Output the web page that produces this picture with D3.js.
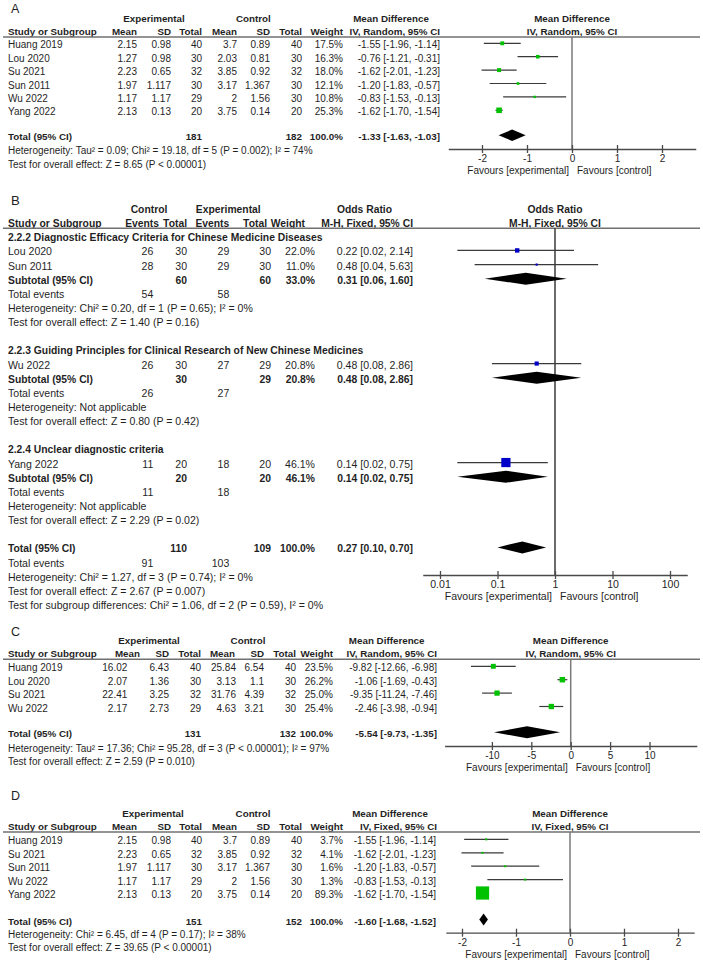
<!DOCTYPE html>
<html><head><meta charset="utf-8">
<script src="https://cdn.jsdelivr.net/npm/d3@7"></script>
<style>html,body{margin:0;padding:0;background:#fff;} svg{display:block;}</style>
</head><body>
<script>
// ================= DATA =================
// ---- Panel A ----
const studiesA = ["Huang 2019","Lou 2020","Su 2021","Sun 2011","Wu 2022","Yang 2022"];
const expMeanA = [2.15,1.27,2.23,1.97,1.17,2.13];
const expSDA = [0.98,0.98,0.65,1.117,1.17,0.13];
const expTotalA = [40,30,32,30,29,20];
const ctlMeanA = [3.7,2.03,3.85,3.17,2,3.75];
const ctlSDA = [0.89,0.81,0.92,1.367,1.56,0.14];
const ctlTotalA = [40,30,32,30,30,20];
const weightA = [17.5,16.3,18.0,12.1,10.8,25.3];
const mdA = [-1.55,-0.76,-1.62,-1.20,-0.83,-1.62];
const lowA = [-1.96,-1.21,-2.01,-1.83,-1.53,-1.70];
const highA = [-1.14,-0.31,-1.23,-0.57,-0.13,-1.54];
const totalNA = [181,182];
const totalEffA = [-1.33,-1.63,-1.03];
const hetA = "Heterogeneity: Tau\u00B2 = 0.09; Chi\u00B2 = 19.18, df = 5 (P = 0.002); I\u00B2 = 74%";
const testA = "Test for overall effect: Z = 8.65 (P < 0.00001)";
const ticksA = [-2,-1,0,1,2];

// ---- Panel B ----
const subgroupsB = ["2.2.2 Diagnostic Efficacy Criteria for Chinese Medicine Diseases",
  "2.2.3 Guiding Principles for Clinical Research of New Chinese Medicines",
  "2.2.4 Unclear diagnostic criteria"];
const studiesB = ["Lou 2020","Sun 2011","Wu 2022","Yang 2022"];
const groupOfB = [0,0,1,2];
const ctlEventsB = [26,28,26,11];
const ctlTotalB = [30,30,30,20];
const expEventsB = [29,29,27,18];
const expTotalB = [30,30,29,20];
const weightB = [22.0,11.0,20.8,46.1];
const orB = [0.22,0.48,0.48,0.14];
const lowB = [0.02,0.04,0.08,0.02];
const highB = [2.14,5.63,2.86,0.75];
const subCtlTotalB = [60,30,20];
const subExpTotalB = [60,29,20];
const subWeightB = [33.0,20.8,46.1];
const subOrB = [0.31,0.48,0.14];
const subLowB = [0.06,0.08,0.02];
const subHighB = [1.60,2.86,0.75];
const subCtlEventsB = [54,26,11];
const subExpEventsB = [58,27,18];
const subHetB = ["Heterogeneity: Chi\u00B2 = 0.20, df = 1 (P = 0.65); I\u00B2 = 0%",
  "Heterogeneity: Not applicable","Heterogeneity: Not applicable"];
const subTestB = ["Test for overall effect: Z = 1.40 (P = 0.16)",
  "Test for overall effect: Z = 0.80 (P = 0.42)",
  "Test for overall effect: Z = 2.29 (P = 0.02)"];
const totalNB = [110,109];
const totalEventsB = [91,103];
const totalEffB = [0.27,0.10,0.70];
const hetB = "Heterogeneity: Chi\u00B2 = 1.27, df = 3 (P = 0.74); I\u00B2 = 0%";
const testB = "Test for overall effect: Z = 2.67 (P = 0.007)";
const subDiffB = "Test for subgroup differences: Chi\u00B2 = 1.06, df = 2 (P = 0.59), I\u00B2 = 0%";
const ticksB = [0.01,0.1,1,10,100];

// ---- Panel C ----
const studiesC = ["Huang 2019","Lou 2020","Su 2021","Wu 2022"];
const expMeanC = [16.02,2.07,22.41,2.17];
const expSDC = [6.43,1.36,3.25,2.73];
const expTotalC = [40,30,32,29];
const ctlMeanC = [25.84,3.13,31.76,4.63];
const ctlSDC = [6.54,1.1,4.39,3.21];
const ctlTotalC = [40,30,32,30];
const weightC = [23.5,26.2,25.0,25.4];
const mdC = [-9.82,-1.06,-9.35,-2.46];
const lowC = [-12.66,-1.69,-11.24,-3.98];
const highC = [-6.98,-0.43,-7.46,-0.94];
const totalNC = [131,132];
const totalEffC = [-5.54,-9.73,-1.35];
const hetC = "Heterogeneity: Tau\u00B2 = 17.36; Chi\u00B2 = 95.28, df = 3 (P < 0.00001); I\u00B2 = 97%";
const testC = "Test for overall effect: Z = 2.59 (P = 0.010)";
const ticksC = [-10,-5,0,5,10];

// ---- Panel D ----
const studiesD = ["Huang 2019","Su 2021","Sun 2011","Wu 2022","Yang 2022"];
const expMeanD = [2.15,2.23,1.97,1.17,2.13];
const expSDD = [0.98,0.65,1.117,1.17,0.13];
const expTotalD = [40,32,30,29,20];
const ctlMeanD = [3.7,3.85,3.17,2,3.75];
const ctlSDD = [0.89,0.92,1.367,1.56,0.14];
const ctlTotalD = [40,32,30,30,20];
const weightD = [3.7,4.1,1.6,1.3,89.3];
const mdD = [-1.55,-1.62,-1.20,-0.83,-1.62];
const lowD = [-1.96,-2.01,-1.83,-1.53,-1.70];
const highD = [-1.14,-1.23,-0.57,-0.13,-1.54];
const totalND = [151,152];
const totalEffD = [-1.60,-1.68,-1.52];
const hetD = "Heterogeneity: Chi\u00B2 = 6.45, df = 4 (P = 0.17); I\u00B2 = 38%";
const testD = "Test for overall effect: Z = 39.65 (P < 0.00001)";
const ticksD = [-2,-1,0,1,2];

// ================= DRAWING =================
const FONT = "'Liberation Sans', Arial, Helvetica, sans-serif";
const TXT = "#1f1f1f";
const GREEN = "#00c200", BLUE = "#0000c8";
let FS = 1; // per-panel font scale (panels were scaled differently)
const svg = d3.select("body").append("svg").attr("width",703).attr("height",961)
  .attr("font-family",FONT);
svg.append("rect").attr("width",703).attr("height",961).attr("fill","#fff");

function label(g, x, y, s, o={}) {
  return g.append("text").attr("x",x).attr("y",y)
    .attr("text-anchor", o.anchor||"start")
    .attr("font-size", (o.size || (o.bold?9.8:10))*FS)
    .attr("font-weight", o.bold?"bold":"normal")
    .attr("fill", TXT).text(s);
}
const R = (g,x,y,s,b) => label(g,x,y,String(s),{anchor:"end",bold:b});
const f2 = v => v.toFixed(2);
const ci = (m,l,h) => `${f2(m)} [${f2(l)}, ${f2(h)}]`;
const pct = w => w.toFixed(1)+"%";

function plotFrame(g, x, zero, ticks, L, zeroColor) {
  g.append("line").attr("x1",x(zero)).attr("x2",x(zero))
    .attr("y1",L.ruleY).attr("y2",L.axisY)
    .attr("stroke",zeroColor).attr("stroke-width",1.5);
  const ax = g.append("g").attr("transform",`translate(0,${L.axisY})`)
    .call(d3.axisBottom(x).tickValues(ticks).tickFormat(d=>String(d)).tickSizeOuter(0).tickSizeInner(4));
  ax.select(".domain").attr("stroke","#4a4a4a").attr("stroke-width",1.3);
  ax.selectAll(".tick line").attr("y1",-4).attr("y2",4).attr("stroke","#4a4a4a").attr("stroke-width",1.3);
  ax.selectAll(".tick text").attr("y",13.3).attr("dy",null).attr("font-size",10*FS)
    .attr("font-family",FONT).attr("fill",TXT);
  label(g, x(zero)-3, L.axisY+25.3, "Favours [experimental]", {anchor:"end"});
  label(g, x(zero)+5, L.axisY+25.3, "Favours [control]");
}
function square(g, cx, cy, s, color) {
  g.append("rect").attr("x",cx-s/2).attr("y",cy-s/2).attr("width",s).attr("height",s).attr("fill",color);
}
function ciLine(g, x1, x2, y) {
  g.append("line").attr("x1",x1).attr("x2",x2).attr("y1",y).attr("y2",y)
    .attr("stroke","#3a3a3a").attr("stroke-width",1.2);
}
function diamond(g, xl, xm, xh, y, h) {
  g.append("polygon").attr("points",`${xl},${y} ${xm},${y-h} ${xh},${y} ${xm},${y+h}`).attr("fill","#000");
}

function continuousPanel(L, D) {
  FS = 1;
  const g = svg.append("g");
  label(g, 11, L.labelY, L.letter, {size:12.5});
  const x = d3.scaleLinear().domain(L.domain).range(L.range);
  const rowY = d3.scaleLinear().domain([0,1]).range([L.firstY, L.firstY+L.step]);
  const size = d3.scaleLinear().domain([0,100]).range([0,L.k*100]);
  [["Experimental",L.expC],["Control",L.ctlC],["Mean Difference",L.mdC],["Mean Difference",x(0)]]
    .forEach(([s,cx])=>label(g,cx,L.hdr1Y,s,{anchor:"middle",bold:true}));
  label(g, 8, L.hdr2Y, "Study or Subgroup", {bold:true});
  ["Mean","SD","Total","Mean","SD","Total","Weight",D.method]
    .forEach((s,i)=>R(g, L.hdrCols[i], L.hdr2Y, s, true));
  label(g, x(0), L.hdr2Y, D.method, {anchor:"middle", bold:true});
  g.append("line").attr("x1",3).attr("x2",700).attr("y1",L.ruleY).attr("y2",L.ruleY)
    .attr("stroke","#707070").attr("stroke-width",1.6);
  plotFrame(g, x, 0, D.ticks, L, "#7a7a7a");
  D.studies.forEach((s,i)=>{
    const y = rowY(i);
    label(g, 8, y, s);
    [D.expMean[i], D.expSD[i], D.expTotal[i], D.ctlMean[i], D.ctlSD[i], D.ctlTotal[i],
     pct(D.weight[i]), ci(D.md[i], D.low[i], D.high[i])]
      .forEach((v,j)=>R(g, L.valCols[j], y, v));
    const my = y - 5;
    ciLine(g, x(D.low[i]), x(D.high[i]), my);
    square(g, x(D.md[i]), my, Math.max(2, size(D.weight[i])), GREEN);
  });
  label(g, 8, L.totalY, "Total (95% CI)", {bold:true});
  R(g, L.valCols[2], L.totalY, D.totalN[0], true);
  R(g, L.valCols[5], L.totalY, D.totalN[1], true);
  R(g, L.valCols[6], L.totalY, "100.0%", true);
  R(g, L.valCols[7], L.totalY, ci(...D.totalEff), true);
  diamond(g, x(D.totalEff[1]), x(D.totalEff[0]), x(D.totalEff[2]), L.totalY-5, L.dh);
  label(g, 8, L.hetY, D.het);
  label(g, 8, L.testY, D.test);
}

// ---- Panel A ----
continuousPanel({
  letter:"A", labelY:13, hdr1Y:22, hdr2Y:35, ruleY:37, firstY:48.3, step:13.4,
  totalY:140.3, hetY:154.3, testY:167.5, axisY:149,
  domain:[-2.75,2.75], range:[448.25,695.75], k:0.22, dh:5.7,
  expC:154, ctlC:253.3, mdC:391,
  hdrCols:[137,171,202,237,270,302,343,440], valCols:[137,171,202,237,270,302,343,440]
},{
  studies:studiesA, expMean:expMeanA, expSD:expSDA, expTotal:expTotalA,
  ctlMean:ctlMeanA, ctlSD:ctlSDA, ctlTotal:ctlTotalA, weight:weightA,
  md:mdA, low:lowA, high:highA, totalN:totalNA, totalEff:totalEffA,
  het:hetA, test:testA, ticks:ticksA, method:"IV, Random, 95% CI"
});

// ---- Panel B ----
(function(){
  FS = 1.055;
  const L = {labelY:205, hdr1Y:213, hdr2Y:226.7, ruleY:228.3, firstY:241.3, step:14.14, axisY:575};
  const g = svg.append("g");
  label(g, 11, L.labelY, "B", {size:12.5});
  const x = d3.scaleLog().domain([Math.pow(10,-2.3), Math.pow(10,2.3)]).range([422.75, 687.25]);
  const rowY = d3.scaleLinear().domain([0,1]).range([L.firstY, L.firstY+L.step]);
  const size = d3.scaleLinear().domain([0,100]).range([0,20]);
  const hdr = [159,187,229.3,267,305,413];
  const col = [153.3,187,229.3,271,315,413];
  [["Control",149],["Experimental",228.3],["Odds Ratio",364.5],["Odds Ratio",x(1)]]
    .forEach(([s,cx])=>label(g,cx,L.hdr1Y,s,{anchor:"middle",bold:true}));
  label(g, 8, L.hdr2Y, "Study or Subgroup", {bold:true});
  ["Events","Total","Events","Total","Weight","M-H, Fixed, 95% CI"]
    .forEach((s,i)=>R(g, hdr[i], L.hdr2Y, s, true));
  label(g, x(1), L.hdr2Y, "M-H, Fixed, 95% CI", {anchor:"middle", bold:true});
  g.append("line").attr("x1",3).attr("x2",700).attr("y1",L.ruleY).attr("y2",L.ruleY)
    .attr("stroke","#707070").attr("stroke-width",1.6);
  plotFrame(g, x, 1, ticksB, L, "#3a3a3a");
  let r = 0;
  subgroupsB.forEach((name, gi)=>{
    label(g, 8, rowY(r++), name, {bold:true});
    studiesB.forEach((s,i)=>{
      if (groupOfB[i] !== gi) return;
      const y = rowY(r++);
      label(g, 8, y, s);
      [ctlEventsB[i], ctlTotalB[i], expEventsB[i], expTotalB[i], pct(weightB[i]), ci(orB[i], lowB[i], highB[i])]
        .forEach((v,j)=>R(g, col[j], y, v));
      ciLine(g, x(lowB[i]), x(highB[i]), y-5);
      square(g, x(orB[i]), y-5, Math.max(2, size(weightB[i])), BLUE);
    });
    let y = rowY(r++);
    label(g, 8, y, "Subtotal (95% CI)", {bold:true});
    R(g, col[1], y, subCtlTotalB[gi], true);
    R(g, col[3], y, subExpTotalB[gi], true);
    R(g, col[4], y, pct(subWeightB[gi]), true);
    R(g, col[5], y, ci(subOrB[gi], subLowB[gi], subHighB[gi]), true);
    diamond(g, x(subLowB[gi]), x(subOrB[gi]), x(subHighB[gi]), y-5, 6);
    y = rowY(r++);
    label(g, 8, y, "Total events");
    R(g, col[0], y, subCtlEventsB[gi]);
    R(g, col[2], y, subExpEventsB[gi]);
    label(g, 8, rowY(r++), subHetB[gi]);
    label(g, 8, rowY(r++), subTestB[gi]);
    r++;
  });
  let y = rowY(r++);
  label(g, 8, y, "Total (95% CI)", {bold:true});
  R(g, col[1], y, totalNB[0], true);
  R(g, col[3], y, totalNB[1], true);
  R(g, col[4], y, "100.0%", true);
  R(g, col[5], y, ci(...totalEffB), true);
  diamond(g, x(totalEffB[1]), x(totalEffB[0]), x(totalEffB[2]), y-5, 6);
  y = rowY(r++);
  label(g, 8, y, "Total events");
  R(g, col[0], y, totalEventsB[0]);
  R(g, col[2], y, totalEventsB[1]);
  label(g, 8, rowY(r++), hetB);
  label(g, 8, rowY(r++), testB);
  label(g, 8, rowY(r++), subDiffB);
})();

// ---- Panel C ----
continuousPanel({
  letter:"C", labelY:636, hdr1Y:644, hdr2Y:657, ruleY:659.3, firstY:671.3, step:13.4,
  totalY:737.3, hetY:751.5, testY:765, axisY:746,
  domain:[-16,16], range:[444.6,696.8], k:0.21, dh:6,
  expC:149, ctlC:248, mdC:386.7,
  hdrCols:[140,169,201,235,264,296,333,437], valCols:[127.3,169,201,236,264,296,333,437]
},{
  studies:studiesC, expMean:expMeanC, expSD:expSDC, expTotal:expTotalC,
  ctlMean:ctlMeanC, ctlSD:ctlSDC, ctlTotal:ctlTotalC, weight:weightC,
  md:mdC, low:lowC, high:highC, totalN:totalNC, totalEff:totalEffC,
  het:hetC, test:testC, ticks:ticksC, method:"IV, Random, 95% CI"
});

// ---- Panel D ----
continuousPanel({
  letter:"D", labelY:800, hdr1Y:817, hdr2Y:830.3, ruleY:832, firstY:844.4, step:13.4,
  totalY:924.5, hetY:938, testY:951.3, axisY:932.7,
  domain:[-2.3,2.3], range:[445.8,694.2], k:0.148, dh:6,
  expC:153, ctlC:253, mdC:390,
  hdrCols:[137,171,202,237,270,302,343,437], valCols:[137,171,202,237,270,302,343,436]
},{
  studies:studiesD, expMean:expMeanD, expSD:expSDD, expTotal:expTotalD,
  ctlMean:ctlMeanD, ctlSD:ctlSDD, ctlTotal:ctlTotalD, weight:weightD,
  md:mdD, low:lowD, high:highD, totalN:totalND, totalEff:totalEffD,
  het:hetD, test:testD, ticks:ticksD, method:"IV, Fixed, 95% CI"
});
</script>
</body></html>
